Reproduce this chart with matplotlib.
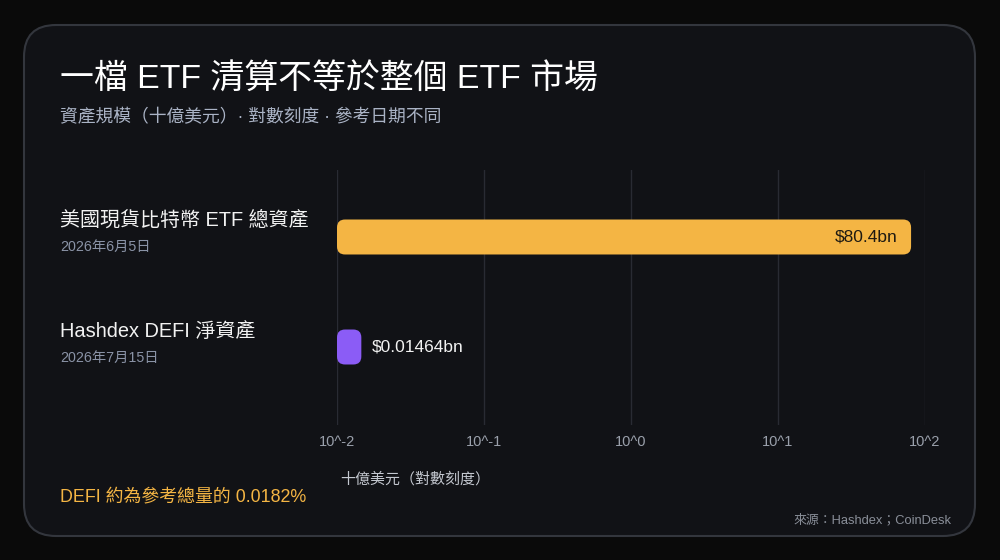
import matplotlib
matplotlib.use("Agg")
import matplotlib.pyplot as plt
from matplotlib.patches import FancyBboxPatch
from matplotlib.transforms import IdentityTransform
import numpy as np

plt.rcParams['font.family'] = ['Liberation Sans', 'Noto Sans CJK TC', 'DejaVu Sans']

# data
categories = ["美國現貨比特幣 ETF 總資產", "Hashdex DEFI 淨資產"]
dates = ["2026年6月5日", "2026年7月15日"]
values = [80.4, 0.01464]          # billions USD
value_labels = ["$80.4bn", "$0.01464bn"]
bar_colors = ["#f4b544", "#8b5cf6"]
tick_vals = [1e-2, 1e-1, 1e0, 1e1, 1e2]
tick_labels = ["10^-2", "10^-1", "10^0", "10^1", "10^2"]

W, H = 1000, 560
fig = plt.figure(figsize=(W / 100, H / 100), dpi=100)
fig.patch.set_facecolor("#0a0a0a")

# card background
card = FancyBboxPatch((24 / W, 24 / H), 951 / W, 511 / H,
                      boxstyle="round,pad=0,rounding_size=0.032",
                      transform=fig.transFigure, facecolor="#111216",
                      edgecolor="#33363d", linewidth=1.5, mutation_aspect=W / H,
                      zorder=-10)
fig.patches.append(card)

def fy(y):
    return 1 - y / H

ax = fig.add_axes([337 / W, fy(425), (925 - 337) / W, (425 - 170) / H])
ax.set_zorder(5)
ax.set_facecolor("none")
ax.set_xscale("log")
ax.set_xlim(1e-2, 1e2)
ax.set_ylim(1.709, -0.609)
for s in ax.spines.values():
    s.set_visible(False)
ax.set_yticks([])
ax.set_xticks(tick_vals)
ax.set_xticklabels(tick_labels)
ax.minorticks_off()
ax.tick_params(axis="x", length=0, pad=7, labelsize=10.5, labelcolor="#9aa0ab")
for t in tick_vals:
    ax.axvline(t, color="#292b33", linewidth=1, zorder=0)

ypos = np.arange(len(values))
bar_h = 0.318
fig.canvas.draw()
for i, v in enumerate(values):
    (x0, y0) = ax.transData.transform((1e-2, ypos[i] + bar_h / 2))
    (x1, y1) = ax.transData.transform((v, ypos[i] - bar_h / 2))
    p = FancyBboxPatch((x0, y0), x1 - x0, y1 - y0,
                       boxstyle="round,pad=0,rounding_size=8",
                       transform=IdentityTransform(), facecolor=bar_colors[i],
                       edgecolor="none", zorder=3)
    ax.add_artist(p)
    if i == 0:
        ax.text(v / 1.24, ypos[i], value_labels[i], ha="right", va="center",
                fontsize=12.5, color="#1e1a12", zorder=4)
    else:
        ax.text(v * 1.18, ypos[i], value_labels[i], ha="left", va="center",
                fontsize=12.5, color="#f2f2f2", zorder=4)

# category labels
for i, (c, d) in enumerate(zip(categories, dates)):
    yc = [220, 331][i]
    fig.text(60 / W, fy(yc), c, fontsize=14.4, color="#f2f2f2", va="center")
    fig.text(60 / W, fy(yc + 27), d, fontsize=10.3, color="#8a93a6", va="center")

# titles
fig.text(60 / W, fy(80), "一檔 ETF 清算不等於整個 ETF 市場", fontsize=24.4,
         color="#ffffff", va="center")
fig.text(60 / W, fy(117), "資產規模（十億美元）· 對數刻度 · 參考日期不同", fontsize=12.8,
         color="#aab3c5", va="center")

fig.text(340 / W, fy(479), "十億美元（對數刻度）", fontsize=10.8, color="#c4c8d0",
         va="center")
fig.text(60 / W, fy(497), "DEFI 約為參考總量的 0.0182%", fontsize=12.9,
         color="#f4b544", va="center")
fig.text(951 / W, fy(520), "來源：Hashdex；CoinDesk", fontsize=9.3, color="#8a8f99",
         va="center", ha="right")

fig.savefig("out.png", dpi=100, facecolor=fig.get_facecolor())
